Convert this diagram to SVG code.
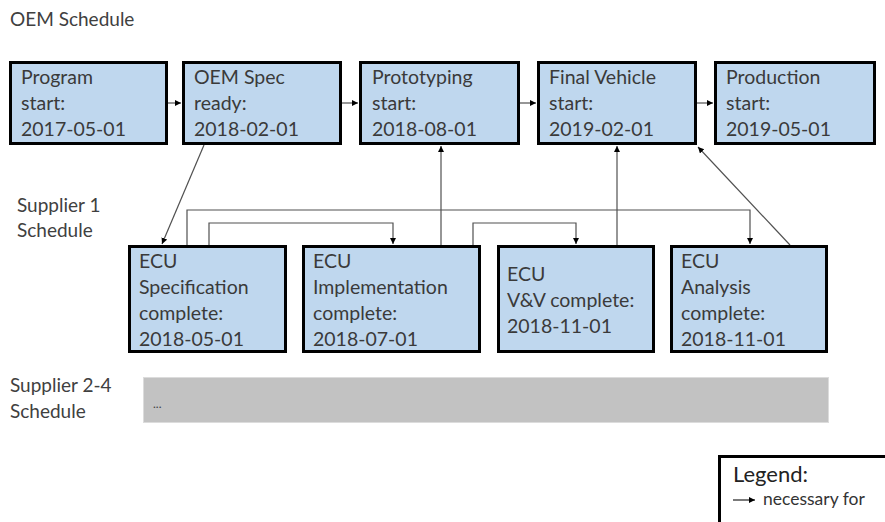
<svg xmlns="http://www.w3.org/2000/svg" width="885" height="522" viewBox="0 0 885 522">
<style>
.box{fill:#bfd7ee;stroke:#000;stroke-width:3}
.t{font-family:Lato,"Liberation Sans",sans-serif;font-size:19.5px;fill:#3a3a3a}
.h{font-family:Lato,"Liberation Sans",sans-serif;font-size:19px;fill:#404040}
.c{fill:none;stroke:#505050;stroke-width:1.2}
</style>
<defs>
<marker id="ah" markerUnits="userSpaceOnUse" markerWidth="7" markerHeight="7" refX="6" refY="3" orient="auto">
<path d="M0,0 L6,3 L0,6 z" fill="#000"/>
</marker>
</defs>
<rect width="885" height="522" fill="#fff"/>
<text class="h" x="10" y="26">OEM Schedule</text>
<text class="h" x="17" y="212">Supplier 1</text>
<text class="h" x="17" y="237">Schedule</text>
<text class="h" x="10" y="392">Supplier 2-4</text>
<text class="h" x="10" y="418">Schedule</text>

<g id="connectors">
<path class="c" d="M168,103 H181" marker-end="url(#ah)"/>
<path class="c" d="M342,103 H358" marker-end="url(#ah)"/>
<path class="c" d="M520,103 H536" marker-end="url(#ah)"/>
<path class="c" d="M697,103 H713" marker-end="url(#ah)"/>
<path class="c" d="M204,145 L162,244" marker-end="url(#ah)"/>
<path class="c" d="M441,245 V146" marker-end="url(#ah)"/>
<path class="c" d="M187,245 V210 H750 V244" marker-end="url(#ah)"/>
<path class="c" d="M209,245 V223 H393 V244" marker-end="url(#ah)"/>
<path class="c" d="M473,245 V223 H576 V244" marker-end="url(#ah)"/>
<path class="c" d="M617,245 V146" marker-end="url(#ah)"/>
<path class="c" d="M790,245 L698,147" marker-end="url(#ah)"/>
</g>

<g id="program-start">
<rect class="box" x="10.5" y="62.5" width="156" height="81"/>
<text class="t" x="21" y="84">Program</text>
<text class="t" x="21" y="110">start:</text>
<text class="t" x="21" y="136">2017-05-01</text>
</g>
<g id="oem-spec-ready">
<rect class="box" x="183.5" y="62.5" width="157" height="81"/>
<text class="t" x="194" y="84">OEM Spec</text>
<text class="t" x="194" y="110">ready:</text>
<text class="t" x="194" y="136">2018-02-01</text>
</g>
<g id="prototyping-start">
<rect class="box" x="360.5" y="62.5" width="158" height="81"/>
<text class="t" x="372" y="84">Prototyping</text>
<text class="t" x="372" y="110">start:</text>
<text class="t" x="372" y="136">2018-08-01</text>
</g>
<g id="final-vehicle-start">
<rect class="box" x="538.5" y="62.5" width="157" height="81"/>
<text class="t" x="549" y="84">Final Vehicle</text>
<text class="t" x="549" y="110">start:</text>
<text class="t" x="549" y="136">2019-02-01</text>
</g>
<g id="production-start">
<rect class="box" x="715.5" y="62.5" width="159" height="81"/>
<text class="t" x="726" y="84">Production</text>
<text class="t" x="726" y="110">start:</text>
<text class="t" x="726" y="136">2019-05-01</text>
</g>

<g id="ecu-spec">
<rect class="box" x="129.5" y="246.5" width="156" height="105"/>
<text class="t" x="139" y="268">ECU</text>
<text class="t" x="139" y="294">Specification</text>
<text class="t" x="139" y="320">complete:</text>
<text class="t" x="139" y="346">2018-05-01</text>
</g>
<g id="ecu-impl">
<rect class="box" x="303.5" y="246.5" width="176" height="105"/>
<text class="t" x="313" y="268">ECU</text>
<text class="t" x="313" y="294">Implementation</text>
<text class="t" x="313" y="320">complete:</text>
<text class="t" x="313" y="346">2018-07-01</text>
</g>
<g id="ecu-vv">
<rect class="box" x="498.5" y="246.5" width="155" height="105"/>
<text class="t" x="507" y="281">ECU</text>
<text class="t" x="507" y="307">V&amp;V complete:</text>
<text class="t" x="507" y="333">2018-11-01</text>
</g>
<g id="ecu-analysis">
<rect class="box" x="671.5" y="246.5" width="155" height="105"/>
<text class="t" x="681" y="268">ECU</text>
<text class="t" x="681" y="294">Analysis</text>
<text class="t" x="681" y="320">complete:</text>
<text class="t" x="681" y="346">2018-11-01</text>
</g>

<g id="supplier-2-4">
<rect x="143.5" y="377.5" width="685" height="45" fill="#c2c2c2" stroke="#dcdcdc" stroke-width="1"/>
<text x="153" y="408" font-family="Lato,'Liberation Sans',sans-serif" font-size="12" fill="#404040">...</text>
</g>

<g id="legend">
<rect x="719.5" y="456.5" width="180" height="80" fill="#fff" stroke="#000" stroke-width="3"/>
<text x="733" y="482" font-family="Lato,'Liberation Sans',sans-serif" font-size="22" fill="#222">Legend:</text>
<path d="M733,500 H755" stroke="#222" stroke-width="1.2" marker-end="url(#ah)"/>
<text x="763" y="505" font-family="Lato,'Liberation Sans',sans-serif" font-size="17.5" fill="#333">necessary for</text>
</g>
</svg>
